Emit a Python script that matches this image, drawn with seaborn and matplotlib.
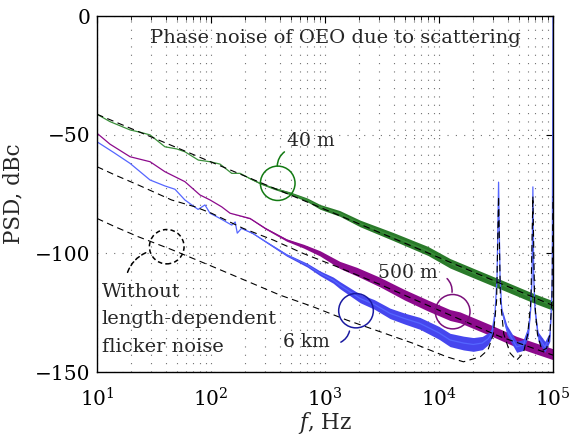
import numpy as np
import pandas as pd
import matplotlib
matplotlib.use("Agg")
import matplotlib.pyplot as plt
import seaborn as sns
from matplotlib.patches import Ellipse

# ---------------- data ----------------
f_40m = [10, 13, 19.5, 24, 29.2, 39.4, 50, 59, 77.4, 98, 120, 152, 180, 220, 270, 350,
         493, 700, 903, 1350, 2030, 4000, 8000, 12500, 20000, 40000, 70000, 100000]
psd_40m = [-41.4, -44.5, -48.0, -49.0, -50.1, -55.1, -56.0, -57.2, -60.7, -61.4, -62.4,
           -66.3, -66.3, -68.5, -70.5, -72.5, -74.7, -77.5, -80.4, -83.2, -87.4,
           -93.0, -99.0, -104.2, -108.3, -114.3, -119.2, -122.0]
hw_40m = [0, 0, 0, 0, 0, 0, 0, 0, 0, 0, 0, 0, 0, 0.2, 0.3, 0.4, 0.6, 0.8, 1.0, 1.2,
          1.4, 1.7, 1.9, 2.0, 2.0, 2.0, 2.0, 2.0]

f_500m = [10, 13, 19.5, 29.2, 39.4, 59, 80, 98, 124, 147, 220, 300, 461, 650, 903,
          1350, 1900, 3000, 5000, 8000, 12500, 15300, 28000, 48000, 70000, 100000]
psd_500m = [-49.4, -54.0, -59.3, -61.4, -65.6, -69.8, -75.4, -77.5, -80.4, -83.1, -85.3,
            -89.5, -94.4, -97.0, -100.0, -104.9, -107.7, -112.0, -117.5, -122.0, -126.0,
            -127.0, -132.3, -137.3, -140.0, -142.5]
hw_500m = [0, 0, 0, 0, 0, 0, 0, 0, 0, 0, 0.2, 0.3, 0.5, 0.8, 1.1, 1.5, 1.8, 2.0, 2.2,
           2.3, 2.3, 2.3, 2.3, 2.3, 2.3, 2.3]

f_6km = [10, 14, 19.5, 29.2, 39.4, 48.3, 59, 77, 88.5, 98, 120, 152, 163, 170, 185, 233,
         300, 461, 700, 903, 1180, 1350, 2030, 2700, 3720, 5000, 6800, 10000, 12500,
         16400, 20000, 24000, 27000, 29000, 31000, 32300, 33300, 34300, 35500, 39400,
         48000, 55000, 61000, 63500, 65500, 66600, 67700, 69500, 74000, 85000, 93800,
         96500, 98500, 100000]
psd_6km = [-53.0, -57.5, -62.1, -69.1, -71.6, -73.0, -77.5, -81.5, -79.6, -83.1, -85.3,
           -88.1, -86.8, -91.5, -89.5, -91.6, -95.0, -100.7, -105.0, -108.4, -111.3,
           -113.4, -119.0, -121.5, -125.3, -127.5, -129.5, -133.5, -136.5, -137.8,
           -138.4, -137.8, -136.0, -133.7, -125.0, -110.0, -70.0, -110.0, -124.0,
           -132.3, -139.4, -138.6, -132.3, -124.0, -110.0, -72.0, -110.0, -124.0,
           -135.1, -139.4, -135.1, -124.0, -110.0, 5.0]
hw_6km = [0, 0, 0, 0, 0, 0, 0, 0, 0, 0, 0, 0, 0, 0, 0, 0.2, 0.3, 0.5, 0.8, 1.0, 1.3,
          1.5, 1.8, 2.0, 2.2, 2.3, 2.5, 2.7, 2.8, 2.9, 2.9, 2.8, 2.5, 2.0, 1.0, 0.5,
          0.2, 0.5, 1.0, 2.0, 2.3, 2.3, 2.0, 1.0, 0.5, 0.2, 0.5, 1.0, 2.0, 2.3, 2.0,
          1.0, 0.5, 0.2]

f_m40 = [10, 100, 1000, 10000, 100000]
psd_m40 = [-41.4, -61.5, -81.5, -101.8, -122.0]

f_m500 = [10, 14.4, 23, 45, 72.4, 101, 192, 352, 640, 1270, 3000, 10000, 34400, 100000]
psd_m500 = [-63.5, -67.0, -71.2, -77.5, -80.4, -83.1, -89.5, -94.4, -100.0, -105.6,
            -113.0, -124.0, -135.1, -142.9]

f_m6 = [10, 14.4, 23, 45, 100, 403, 785, 1550, 3030, 5920, 11700, 16400, 23000, 26900,
        30000, 32000, 33300, 34600, 37000, 42000, 48000, 55000, 60000, 64000, 66600,
        69000, 73000, 80000, 88000, 94000, 98000, 100000]
psd_m6 = [-85.3, -88.8, -93.0, -98.4, -105.3, -117.6, -122.5, -128.1, -133.0, -137.9,
          -143.6, -145.7, -143.6, -140.7, -134.0, -120.0, -76.0, -120.0, -134.0, -142.0,
          -145.0, -142.0, -134.0, -120.0, -76.0, -120.0, -134.0, -141.0, -140.0, -134.0,
          -118.0, -76.0]

y_ticks = [0, -50, -100, -150]
title_text = "Phase noise of OEO due to scattering"
labels_len = ["40 m", "500 m", "6 km"]
note_lines = ["Without", "length-dependent", "flicker noise"]

# ---------------- style ----------------
sns.set_theme(style="white")
plt.rcParams["font.family"] = ["DejaVu Serif"]
plt.rcParams["mathtext.fontset"] = "dejavuserif"

C_GREEN = "#2a7a2a"
C_GREEN_LINE = "#3a8f3a"
C_PURPLE = "#8c0a8c"
C_BLUE = "#4646ee"
C_BLUE_LINE = "#5566ff"

fig = plt.figure(figsize=(5.7, 4.36), dpi=100)
ax = fig.add_axes([97 / 570, 64 / 436, 456 / 570, 356 / 436])
ax.set_xscale("log")

def band(f, y, hw, color, z):
    y = np.asarray(y, float)
    hw = np.asarray(hw, float)
    ax.fill_between(f, y - hw, y + hw, color=color, lw=0, zorder=z)

band(f_40m, psd_40m, hw_40m, C_GREEN, 2)
sns.lineplot(x=f_40m, y=psd_40m, ax=ax, color=C_GREEN_LINE, lw=0.9, zorder=2.1)
band(f_500m, psd_500m, hw_500m, C_PURPLE, 3)
sns.lineplot(x=f_500m, y=psd_500m, ax=ax, color=C_PURPLE, lw=0.9, zorder=3.1)
band(f_6km, psd_6km, hw_6km, C_BLUE, 4)
sns.lineplot(x=f_6km, y=psd_6km, ax=ax, color=C_BLUE_LINE, lw=0.9, zorder=4.1)

dash = (0, (6.0, 4.0))
for fx, py in [(f_m40, psd_m40), (f_m500, psd_m500), (f_m6, psd_m6)]:
    sns.lineplot(x=fx, y=py, ax=ax, color="black", lw=0.8, linestyle=dash, zorder=5)

ax.set_xlim(10, 1e5)
ax.set_ylim(-150, 0)
ax.set_yticks(y_ticks)
ax.minorticks_on()
ax.yaxis.set_minor_locator(matplotlib.ticker.NullLocator())

gridkw = dict(color="#707070", lw=0.8, linestyle=(0, (1, 6.5)))
ax.grid(True, which="both", axis="x", **gridkw)
ax.grid(True, which="major", axis="y", **gridkw)
ax.set_axisbelow(True)

for s in ax.spines.values():
    s.set_color("black")
    s.set_linewidth(1.0)
    s.set_zorder(6)
ax.tick_params(which="both", direction="in", top=True, right=True, colors="black",
               labelsize=14.5)
ax.tick_params(which="major", length=5, width=0.8)
ax.tick_params(axis="y", which="major", pad=5)
ax.tick_params(axis="x", which="major", pad=11)
ax.tick_params(which="minor", length=3, width=0.6)

ax.set_ylabel("PSD, dBc", fontsize=15.5, labelpad=7)
ax.set_xlabel(r"$f$, Hz", fontsize=15.5, labelpad=0)

ax.text(0.1162, 0.925, title_text, transform=ax.transAxes, fontsize=14,
        ha="left", va="baseline", zorder=7)

# annotations (axes-fraction positions)
tr = ax.transAxes
def circ(cx, cy, color, ls="-"):
    e = Ellipse((cx, cy), 0.0760, 0.0965, transform=tr, fill=False, edgecolor=color,
                lw=1.1, linestyle=ls, zorder=8)
    ax.add_patch(e)

circ(0.3963, 0.5301, "#127a12")
ax.annotate("", xy=(0.3954, 0.5711), xytext=(0.416, 0.6228), xycoords=tr, textcoords=tr,
            arrowprops=dict(arrowstyle="-", color="#127a12", lw=1.1,
                            connectionstyle="arc3,rad=0.3"), zorder=8)
ax.text(0.4167, 0.6348, labels_len[0], transform=tr, fontsize=13.5, ha="left",
        va="baseline", zorder=8)

circ(0.780, 0.1694, "#7a107a")
ax.annotate("", xy=(0.7778, 0.2163), xytext=(0.7632, 0.2677), xycoords=tr, textcoords=tr,
            arrowprops=dict(arrowstyle="-", color="#7a107a", lw=1.1,
                            connectionstyle="arc3,rad=-0.3"), zorder=8)
ax.text(0.6162, 0.2632, labels_len[1], transform=tr, fontsize=13.5, ha="left",
        va="baseline", zorder=8)

circ(0.568, 0.1722, "#1a1aa0")
ax.annotate("", xy=(0.5548, 0.1227), xytext=(0.5292, 0.0806), xycoords=tr, textcoords=tr,
            arrowprops=dict(arrowstyle="-", color="#1a1aa0", lw=1.1,
                            connectionstyle="arc3,rad=0.3"), zorder=8)
ax.text(0.4079, 0.0711, labels_len[2], transform=tr, fontsize=13.5, ha="left",
        va="baseline", zorder=8)

circ(0.1529, 0.3520, "black", ls=(0, (3, 2)))
ax.annotate("", xy=(0.1125, 0.3379), xytext=(0.0651, 0.2725), xycoords=tr, textcoords=tr,
            arrowprops=dict(arrowstyle="-", color="black", lw=1.1, linestyle=(0, (3, 2)),
                            connectionstyle="arc3,rad=-0.25"), zorder=8)
for txt, yb in zip(note_lines, [0.2115, 0.1348, 0.0570]):
    ax.text(0.0099, yb, txt, transform=tr, fontsize=14, ha="left", va="baseline",
            zorder=8)

fig.savefig("out.png", dpi=100)
